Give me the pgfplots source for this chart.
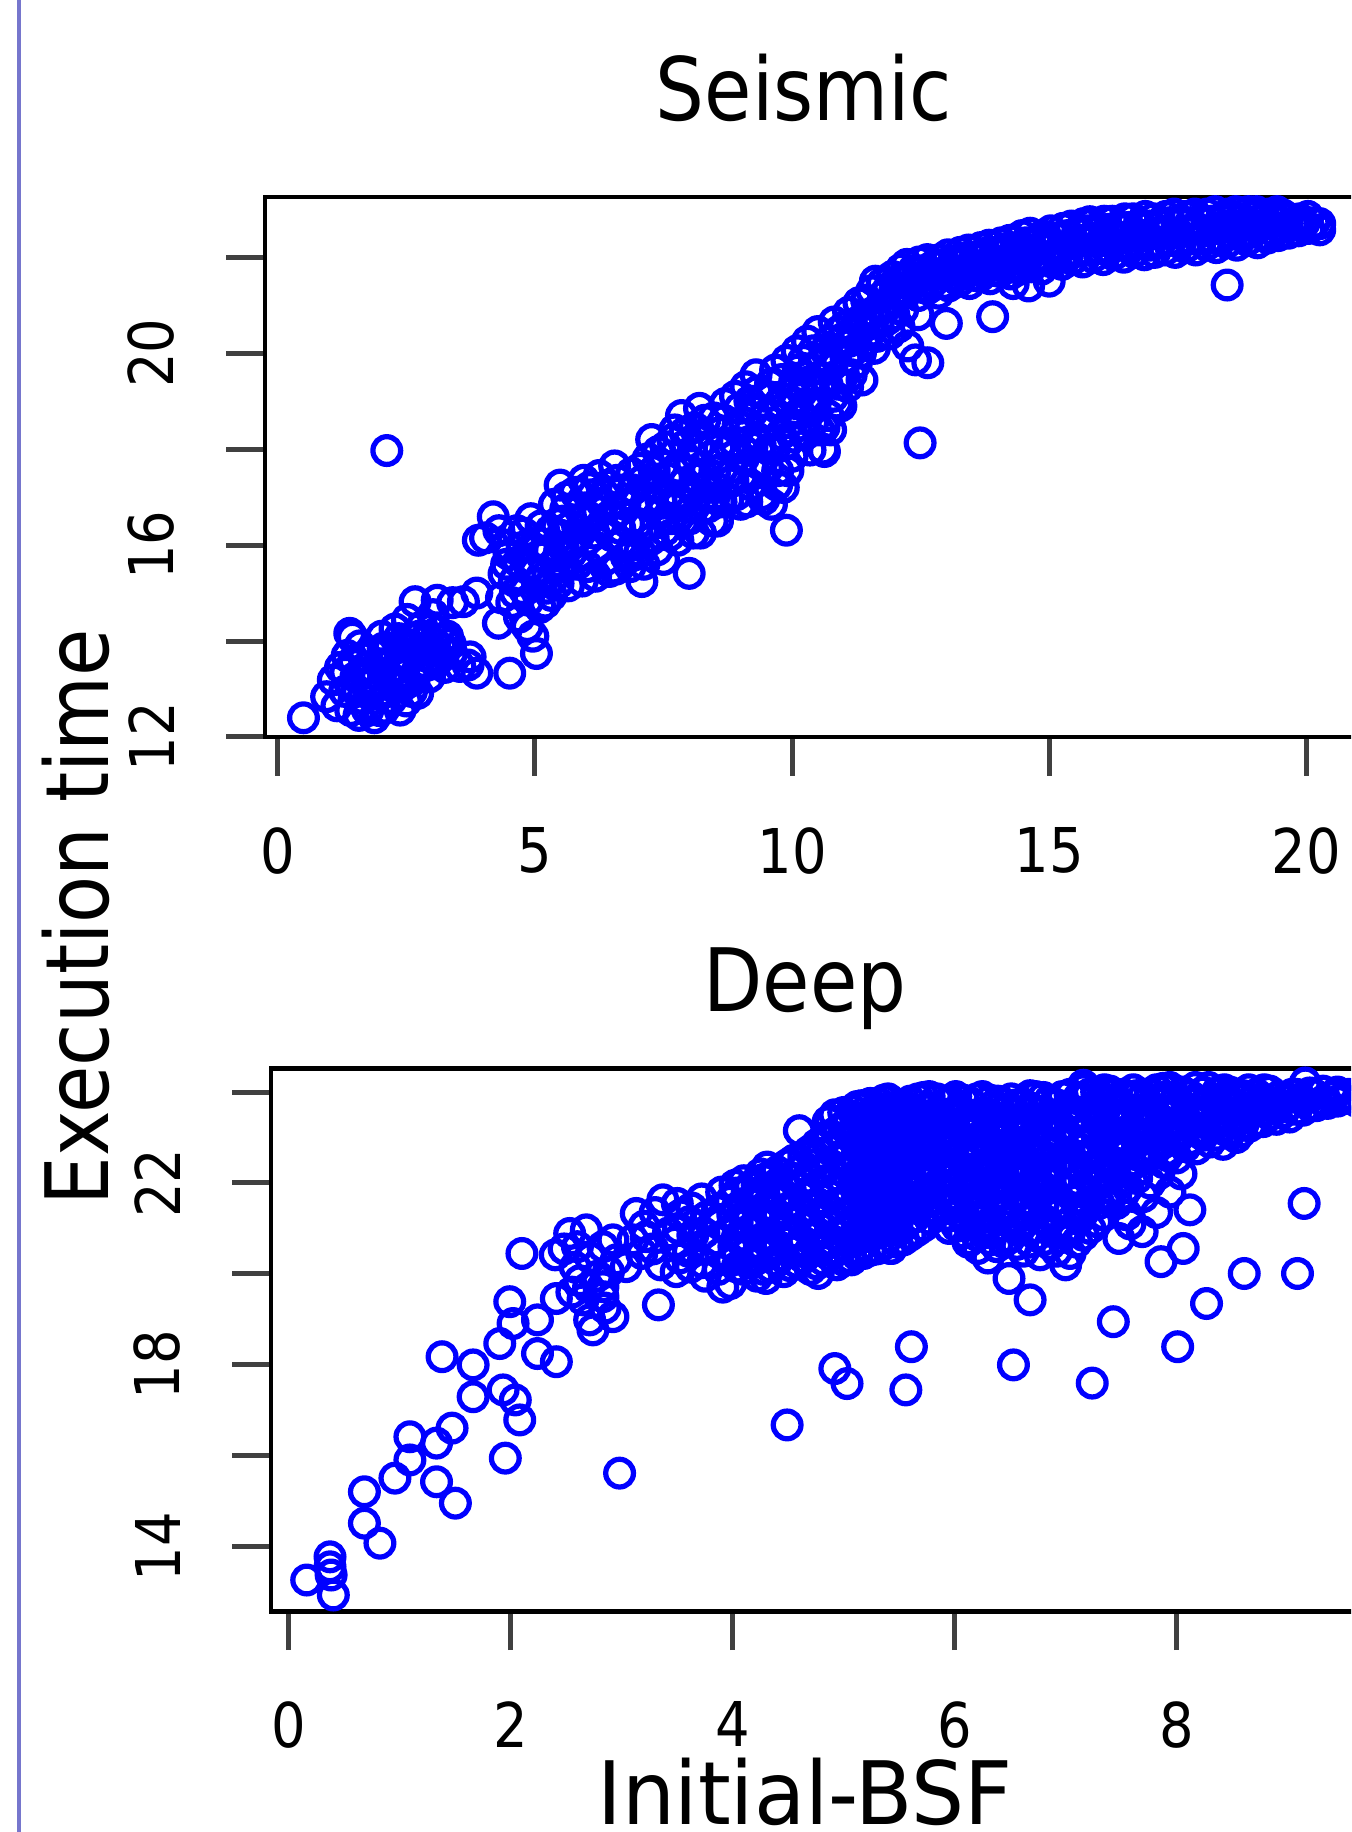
\documentclass[border=0pt]{standalone}
\usepackage{fontspec}
\setmainfont{DejaVu Sans}[FakeStretch=0.88]
\usepackage{pgfplots}
\pgfplotsset{compat=1.18}
\definecolor{leftline}{RGB}{118,118,205}
\newcommand\tickfont{\fontsize{24.7}{28}\selectfont}
\newcommand\titlefont{\fontsize{35}{40}\selectfont}
\pgfplotsset{rstyle/.style={
  scale only axis,
  tick align=outside,
  xtick pos=left, ytick pos=left,
  major tick length=15.5pt,
  axis line style={line width=1.7pt, black},
  tick style={line width=2pt, black!75},
  /pgf/number format/assume math mode=true,
  xticklabel style={font=\tickfont, inner sep=0pt, anchor=north},
  yticklabel style={font=\tickfont, inner sep=0pt, rotate=90, anchor=south},
  xticklabel shift=20.5pt, yticklabel shift=20.5pt,
}}
\pgfplotsset{rmark/.style={only marks, mark=o, color=blue, mark size=5.55pt, mark options={line width=2.1pt}}}
\begin{document}
\begin{tikzpicture}
\begin{scope}
\clip (0,0) rectangle (540.4pt,732.8pt);
\draw[line width=1.3pt, leftline] (7.6pt,0) -- (7.6pt,732.8pt);
% ---------------- Seismic ----------------
\begin{axis}[rstyle, at={(105.96pt,438pt)}, anchor=south west, width=439.2pt, height=215.9pt,
  xmin=-0.25, xmax=21.1, ymin=12, ymax=23.25,
  xtick={0,5,10,15,20}, xticklabels={0,5,10,15,20},
  ytick={12,14,16,18,20,22}, yticklabels={12,,16,,20,}]
\addplot[rmark] coordinates {
(0.50,12.40) (0.95,12.84) (1.08,13.19) (1.15,12.65) (1.22,13.45)
(1.30,12.95) (1.35,13.70) (1.40,14.16) (1.45,14.08) (1.42,12.55)
(1.52,13.25) (1.58,12.45) (1.60,13.90) (1.65,12.80)
(1.72,13.45) (1.75,12.55) (1.80,13.10) (1.85,13.75) (1.88,12.40)
(1.95,12.90) (2.00,13.50) (2.02,14.10) (2.08,12.60)
(2.12,13.25) (2.18,13.85) (2.22,12.80) (2.28,14.25)
(2.32,13.45) (2.38,12.56) (2.42,13.95) (2.48,13.10)
(2.52,14.45) (2.55,13.65) (2.60,12.95) (2.62,14.05)
(2.67,14.82) (2.70,13.35) (2.72,12.91) (2.78,13.85) (2.80,14.30)
(2.85,13.55) (2.90,14.10) (2.95,13.25) (3.00,13.80) (3.02,14.55)
(3.08,13.55) (3.12,14.20) (3.18,13.85) (3.25,13.45) (3.30,14.10) (3.38,13.75)
(3.10,14.85) (3.40,14.80) (3.61,14.82) (3.87,15.00)
(3.54,13.47) (3.74,13.67) (3.87,13.33) (3.70,13.50)
(4.51,13.33) (4.29,14.37) (2.12,17.97)
(3.90,16.10) (4.04,16.15) (4.19,16.59) (4.30,16.30) (4.45,16.00)
(4.35,14.90) (4.40,15.40) (4.50,15.80) (4.55,14.80) (4.60,15.25) (4.65,16.30)
(4.70,14.50) (4.75,15.95) (4.80,15.05) (4.85,14.30) (4.90,15.55) (4.92,16.55)
(4.96,14.10) (5.03,13.74) (5.05,15.20) (5.08,16.05) (5.10,14.70) (5.15,15.75)
(5.20,14.79) (5.25,15.40) (5.30,16.30) (5.32,14.95) (5.38,16.85) (5.40,15.65)
(5.45,15.20) (5.49,17.25) (5.52,16.20) (5.58,15.55) (5.60,16.75)
(5.65,15.15) (5.70,16.40) (5.75,16.04) (5.78,17.10) (5.82,15.60)
(5.88,16.75) (5.92,15.25) (5.95,17.35) (6.00,16.10) (6.02,15.55)
(6.08,16.55) (6.12,17.05) (6.18,15.35) (6.20,15.95) (6.25,17.45)
(6.28,16.40) (6.32,16.85) (6.38,15.70) (6.42,17.25) (6.48,16.20)
(6.52,15.52) (6.55,17.65) (6.58,15.50) (6.62,16.70) (6.68,16.05)
(6.72,17.15) (6.78,15.75) (6.82,16.45) (6.88,17.50) (6.92,16.00)
(6.98,16.90) (7.04,15.86) (7.08,15.24) (7.10,17.35) (7.15,16.40)
(7.20,17.80) (7.25,16.85) (7.27,18.20) (7.30,16.15)
(7.35,17.25) (7.38,15.90) (7.42,16.65) (7.48,17.65) (7.52,16.30)
(7.55,18.05) (7.60,17.05) (7.65,16.55) (7.70,17.55) (7.72,18.40)
(7.78,16.10) (7.82,16.90) (7.85,18.70) (7.90,17.30) (7.95,18.10)
(8.00,15.41) (8.02,16.55) (8.05,17.70) (8.10,18.45) (8.15,17.05)
(8.20,18.85) (8.22,16.25) (8.28,17.45) (8.32,18.20) (8.38,16.80)
(8.42,17.85) (8.48,18.65) (8.52,17.20) (8.55,16.50) (8.60,18.35)
(8.65,17.60) (8.70,18.95) (8.75,16.95) (8.80,18.05)
(8.85,17.35) (8.90,19.10) (8.95,18.50) (9.00,16.85) (9.05,17.80)
(9.10,19.30) (9.15,18.15) (9.20,17.25) (9.25,18.80) (9.30,19.55)
(9.35,17.70) (9.40,18.40) (9.45,16.95) (9.50,19.10) (9.55,18.00)
(9.60,16.85) (9.62,18.70) (9.68,19.65) (9.72,17.55) (9.78,18.30)
(9.83,17.20) (9.86,19.05) (9.90,19.85) (9.89,16.31) (9.95,18.55) (10.00,17.85)
(10.05,19.40) (10.10,20.05) (10.15,18.75) (10.20,19.20) (10.25,18.30)
(10.30,20.25) (10.35,17.98) (10.38,19.65) (10.45,18.95) (10.50,20.45)
(10.55,19.35) (10.60,18.00) (10.63,17.95) (10.65,20.05) (10.70,18.70)
(10.78,19.75) (10.82,20.65) (10.87,18.96) (10.92,19.35) (10.98,20.30)
(11.05,19.90) (11.10,20.85) (11.15,19.55) (11.22,20.45) (11.30,21.05)
(11.36,19.44) (11.42,20.25) (11.48,20.80) (11.55,21.30) (11.60,20.10)
(11.68,20.65) (11.75,21.45) (11.82,20.95) (11.90,20.40) (11.95,21.60)
(12.00,21.10) (12.08,20.55) (12.12,21.75) (12.18,21.25) (12.25,20.15)
(12.40,19.86) (12.49,18.13) (12.64,19.80) (13.00,20.62) (13.90,20.76) (12.45,20.80) (12.00,21.30)
(12.25,21.30) (12.27,21.60) (12.23,21.85)
(12.45,21.20) (12.43,21.55) (12.47,21.90)
(12.65,21.35) (12.67,21.70) (12.63,21.95)
(12.85,21.25) (12.83,21.65) (12.87,21.95)
(13.05,21.40) (13.07,21.75) (13.03,22.05)
(13.25,21.50) (13.23,21.85) (13.27,22.10)
(13.45,21.45) (13.47,21.80) (13.43,22.15)
(13.65,21.60) (13.63,21.95) (13.67,22.20)
(13.85,21.55) (13.87,21.90) (13.83,22.25)
(14.05,21.70) (14.03,22.05) (14.07,22.30)
(14.25,21.65) (14.27,22.00) (14.23,22.35)
(14.45,21.75) (14.43,22.10) (14.47,22.45)
(14.65,21.80) (14.67,22.15) (14.63,22.50)
(14.85,21.75) (14.83,22.20) (14.87,22.45)
(15.05,21.90) (15.07,22.25) (15.03,22.55)
(15.25,21.85) (15.23,22.20) (15.27,22.60)
(15.45,21.95) (15.47,22.30) (15.43,22.65)
(15.65,21.90) (15.63,22.35) (15.67,22.70) (15.79,22.74)
(15.85,22.00) (15.87,22.40) (15.83,22.70)
(16.05,21.95) (16.03,22.35) (16.07,22.75)
(16.25,22.05) (16.27,22.45) (16.23,22.75)
(16.45,22.00) (16.43,22.40) (16.47,22.80)
(16.65,22.10) (16.67,22.50) (16.63,22.80)
(16.85,22.05) (16.83,22.45) (16.87,22.85)
(17.05,22.10) (17.07,22.50) (17.03,22.80)
(17.25,22.15) (17.23,22.55) (17.27,22.85)
(17.45,22.10) (17.47,22.50) (17.43,22.90)
(17.65,22.20) (17.63,22.55) (17.67,22.85)
(17.85,22.15) (17.87,22.60) (17.83,22.90)
(18.05,22.25) (18.03,22.55) (18.07,22.90)
(18.25,22.20) (18.27,22.60) (18.23,22.95)
(18.45,22.30) (18.43,22.65) (18.47,22.90) (18.46,21.42)
(18.65,22.25) (18.67,22.60) (18.63,22.95)
(18.85,22.35) (18.83,22.70) (18.87,22.95)
(19.05,22.30) (19.07,22.65) (19.03,22.95)
(19.25,22.40) (19.23,22.70) (19.27,22.90)
(19.45,22.45) (19.47,22.75) (19.43,22.95)
(19.65,22.50) (19.63,22.80)
(19.85,22.55) (19.87,22.80)
(20.05,22.60) (20.03,22.85)
(20.26,22.57) (20.26,22.70)
(14.30,21.45) (14.60,21.40) (15.00,21.50)
};
\addplot[rmark] coordinates {
(12.35,21.45) (12.35,21.72) (12.55,21.38) (12.55,21.72) (12.75,21.50) (12.75,21.82)
(12.95,21.45) (12.95,21.85) (13.15,21.58) (13.15,21.92) (13.35,21.65) (13.35,21.98)
(13.55,21.62) (13.55,22.00) (13.75,21.75) (13.75,22.08) (13.95,21.72) (13.95,22.10)
(14.15,21.88) (14.15,22.18) (14.35,21.82) (14.35,22.20) (14.55,21.92) (14.55,22.30)
(14.75,21.98) (14.75,22.32) (14.95,21.98) (14.95,22.35) (15.15,22.08) (15.15,22.40)
(15.35,22.05) (15.35,22.45) (15.55,22.12) (15.55,22.50) (15.75,22.15) (15.75,22.55)
(15.95,22.18) (15.95,22.58) (16.15,22.15) (16.15,22.58) (16.35,22.25) (16.35,22.62)
(16.55,22.22) (16.55,22.62) (16.75,22.30) (16.75,22.68) (16.95,22.25) (16.95,22.65)
(17.15,22.30) (17.15,22.68) (17.35,22.35) (17.35,22.72) (17.55,22.30) (17.55,22.72)
(17.75,22.38) (17.75,22.72) (17.95,22.38) (17.95,22.75) (18.15,22.40) (18.15,22.75)
(18.35,22.40) (18.35,22.80) (18.55,22.48) (18.55,22.80) (18.75,22.45) (18.75,22.80)
(18.95,22.52) (18.95,22.85) (19.15,22.48) (19.15,22.82) (19.35,22.55) (19.35,22.82)
(19.55,22.62) (19.55,22.88) (19.75,22.68) (19.95,22.70) (20.15,22.72)
(5.55,15.95) (5.62,17.00) (5.72,15.85) (5.85,16.20) (5.98,16.60) (6.05,17.20) (6.15,16.25)
(6.22,16.70) (6.35,17.05) (6.45,15.45) (6.50,16.55) (6.60,17.35) (6.65,16.35) (6.75,16.85)
(6.85,15.55) (6.90,17.15) (7.00,16.45) (7.05,17.60) (7.12,15.60) (7.18,16.95) (7.24,16.10) (7.32,17.55)
(7.40,17.95) (7.45,16.95) (7.50,15.70) (7.58,17.40) (7.62,16.20) (7.68,18.20) (7.75,16.80)
(7.80,17.60) (7.88,16.50) (7.92,18.35) (7.98,17.00) (8.08,16.25) (8.12,17.40) (8.18,18.05)
(8.25,16.75) (8.30,18.60) (8.35,17.20) (8.45,16.50) (8.50,17.55) (8.58,18.00) (8.62,16.90)
(8.68,18.60) (8.78,17.30)
(8.88,18.15) (8.92,17.05) (8.98,18.85) (9.02,17.45) (9.08,18.55) (9.12,16.90) (9.18,19.00)
(9.22,18.05) (9.28,17.50) (9.32,19.20) (9.38,18.10) (9.42,17.05) (9.48,18.70) (9.52,17.60)
(9.58,19.35) (9.65,18.00) (9.70,17.25) (9.75,18.95) (9.80,19.45) (9.88,18.10) (9.92,17.55) (9.98,19.20)
(10.02,18.25) (10.08,18.95) (10.12,19.65) (10.18,18.50) (10.22,19.85) (10.28,18.95) (10.32,19.40)
(10.40,18.55) (10.42,20.05) (10.48,19.10) (10.52,18.40) (10.58,19.80) (10.62,18.45) (10.68,19.35)
(10.72,20.25) (10.75,18.40) (10.80,19.10) (10.85,19.95) (10.90,20.45) (10.95,18.90) (11.00,19.55)
(11.02,20.55) (11.08,19.30) (11.12,20.25) (11.18,20.05) (11.25,19.80) (11.28,20.65) (11.33,20.00)
(11.40,20.55) (11.45,21.10) (11.52,20.45) (11.58,20.85) (11.62,21.50) (11.65,20.35) (11.72,20.95)
(11.78,21.20) (11.85,20.70) (11.88,21.35) (11.98,20.80) (12.05,21.50) (12.15,20.90)
(4.45,15.60) (4.62,15.00) (4.68,15.65) (4.78,16.25) (4.88,14.85) (4.95,15.95) (5.00,15.45)
(5.12,16.40) (5.22,15.10) (5.28,15.90) (5.35,15.30) (5.42,16.45) (5.48,15.85) (5.55,16.50)
(1.32,13.35) (1.48,13.60) (1.55,12.95) (1.68,13.65) (1.78,12.90) (1.92,13.30) (1.98,12.55)
(2.05,13.85) (2.15,12.95) (2.25,13.60) (2.35,14.05) (2.45,13.30) (2.58,13.85) (2.65,13.20)
(2.75,14.10) (2.82,13.70) (2.92,13.50) (2.98,14.25) (3.05,13.95) (3.15,13.65) (3.22,14.05)
(3.35,13.95) (2.25,13.15) (2.50,12.75) (1.70,12.65)
};
\end{axis}
% ---------------- Deep ----------------
\begin{axis}[rstyle, at={(108.48pt,88.24pt)}, anchor=south west, width=450.9pt, height=217.2pt,
  xmin=-0.16, xmax=10, ymin=12.58, ymax=24.52,
  xtick={0,2,4,6,8}, xticklabels={0,2,4,6,8},
  ytick={14,16,18,20,22,24}, yticklabels={14,,18,,22,}]
\addplot[rmark] coordinates {
(0.16,13.27) (0.37,13.78) (0.37,13.56) (0.38,13.38) (0.40,12.94) (0.68,15.21) (0.68,14.52)
(0.82,14.08) (0.955,15.51) (1.09,16.42) (1.09,15.91) (1.33,16.28) (1.47,16.61) (1.33,15.43)
(1.50,14.96) (1.38,18.18) (1.66,18.00) (1.66,17.30) (1.93,17.45) (2.04,17.23) (2.08,16.79)
(1.95,15.95) (1.99,19.39) (1.90,18.47) (2.02,18.91) (2.24,18.99) (2.24,18.25) (2.41,18.07)
(2.10,20.45) (2.40,20.42) (2.41,19.46) (2.65,19.43) (2.71,18.99) (2.74,18.77) (2.92,19.06)
(2.98,15.62) (3.33,19.32) (2.53,20.89) (2.68,20.97) (2.83,20.60) (2.95,20.31) (2.83,19.72)
(3.13,21.33) (3.37,21.63) (3.22,20.82) (3.04,20.16) (2.83,19.50) (3.91,19.71)
(3.20,21.05) (3.28,20.55) (3.35,20.20) (3.30,21.35) (3.42,20.90) (3.18,20.45) (3.10,20.75)
(2.48,20.55) (2.58,20.15) (2.62,19.85) (2.72,20.35) (2.78,19.95) (2.88,20.05) (2.92,20.75)
(2.55,19.60) (2.85,19.25) (2.60,20.60) (2.70,19.70)
(3.49,20.05) (3.52,20.35) (3.48,20.70) (3.51,21.00) (3.53,21.30) (3.50,21.55)
(3.62,20.15) (3.60,20.50) (3.64,20.85) (3.61,21.15) (3.63,21.45)
(3.75,19.95) (3.73,20.25) (3.77,20.60) (3.74,20.90) (3.76,21.25) (3.72,21.65)
(3.87,20.10) (3.89,20.45) (3.85,20.75) (3.88,21.10) (3.86,21.40) (3.90,21.80)
(3.98,19.79) (3.99,20.30) (4.01,20.60) (3.97,20.95) (4.00,21.30) (3.98,21.60) (4.02,21.95)
(4.10,20.10) (4.12,20.45) (4.08,20.80) (4.11,21.15) (4.09,21.45) (4.13,21.80) (4.10,22.05)
(4.22,19.95) (4.20,20.30) (4.24,20.65) (4.21,21.00) (4.23,21.30) (4.19,21.65) (4.22,21.95) (4.25,22.20)
(4.34,20.15) (4.36,20.50) (4.32,20.85) (4.35,21.20) (4.33,21.50) (4.37,21.85) (4.34,22.15) (4.31,22.35)
(4.46,20.05) (4.44,20.40) (4.48,20.70) (4.45,21.05) (4.47,21.40) (4.43,21.70) (4.46,22.00) (4.49,22.40)
(4.58,20.25) (4.60,20.55) (4.56,20.90) (4.59,21.25) (4.57,21.55) (4.61,21.90) (4.58,22.25) (4.55,22.50)
(4.70,20.10) (4.68,20.45) (4.72,20.80) (4.69,21.10) (4.71,21.45) (4.67,21.75) (4.70,22.10) (4.73,22.40) (4.69,22.70)
(4.82,20.30) (4.84,20.65) (4.80,21.00) (4.83,21.30) (4.81,21.65) (4.85,22.00) (4.82,22.30) (4.79,22.65) (4.83,23.00) (4.86,23.35)
(4.94,20.20) (4.92,20.55) (4.96,20.85) (4.93,21.20) (4.95,21.50) (4.91,21.85) (4.94,22.15) (4.97,22.50) (4.93,22.85) (4.95,23.15) (4.92,23.50)
(5.06,20.35) (5.08,20.70) (5.04,21.05) (5.07,21.35) (5.05,21.70) (5.09,22.00) (5.06,22.35) (5.03,22.70) (5.07,23.00) (5.05,23.35) (5.08,23.60)
(5.18,20.45) (5.16,20.80) (5.20,21.10) (5.17,21.45) (5.19,21.80) (5.15,22.10) (5.18,22.45) (5.21,22.80) (5.17,23.10) (5.19,23.45) (5.16,23.70)
(5.30,20.55) (5.32,20.90) (5.28,21.25) (5.31,21.55) (5.29,21.90) (5.33,22.20) (5.30,22.55) (5.27,22.90) (5.31,23.20) (5.29,23.55) (5.32,23.75)
(5.42,20.56) (5.40,20.95) (5.44,21.30) (5.41,21.65) (5.43,21.95) (5.39,22.30) (5.42,22.65) (5.45,22.95) (5.41,23.30) (5.43,23.60) (5.40,23.85)
(5.54,20.75) (5.56,21.10) (5.52,21.40) (5.55,21.75) (5.53,22.05) (5.57,22.40) (5.54,22.70) (5.51,23.05) (5.55,23.40) (5.53,23.70)
(5.66,20.95) (5.64,21.25) (5.68,21.60) (5.65,21.90) (5.67,22.25) (5.63,22.55) (5.66,22.90) (5.69,23.20) (5.65,23.50) (5.67,23.85)
(5.78,21.20) (5.80,21.45) (5.76,21.75) (5.79,22.05) (5.77,22.40) (5.81,22.70) (5.78,23.05) (5.75,23.35) (5.79,23.65) (5.77,23.90)
(5.90,21.50) (5.88,21.80) (5.92,22.10) (5.89,22.45) (5.91,22.75) (5.87,23.10) (5.90,23.40) (5.93,23.75)
(6.02,21.05) (6.04,21.35) (6.00,21.65) (6.03,22.00) (6.01,22.30) (6.05,22.65) (6.02,22.95) (5.99,23.30) (6.03,23.60) (6.01,23.90)
(6.14,20.75) (6.12,21.10) (6.16,21.45) (6.13,21.80) (6.15,22.10) (6.11,22.45) (6.14,22.80) (6.17,23.10) (6.13,23.45) (6.15,23.75)
(6.21,20.56) (6.12,20.70) (6.30,20.35) (5.95,21.00)
(6.26,20.90) (6.28,21.25) (6.24,21.60) (6.27,21.95) (6.25,22.25) (6.29,22.60) (6.26,22.95) (6.23,23.25) (6.27,23.55) (6.25,23.90)
(6.38,20.60) (6.36,21.00) (6.40,21.40) (6.37,21.75) (6.39,22.10) (6.35,22.40) (6.38,22.75) (6.41,23.10) (6.37,23.40) (6.39,23.80)
(6.49,19.90) (6.50,20.80) (6.52,21.20) (6.48,21.90) (6.51,22.25) (6.49,22.60) (6.53,22.90) (6.50,23.25) (6.47,23.60) (6.51,23.85)
(6.62,20.50) (6.60,21.05) (6.64,21.55) (6.61,22.05) (6.63,22.40) (6.59,22.75) (6.62,23.05) (6.65,23.40) (6.61,23.75)
(6.77,20.42) (6.74,20.85) (6.72,21.35) (6.76,21.80) (6.73,22.20) (6.75,22.55) (6.71,22.90) (6.74,23.25) (6.77,23.55) (6.73,23.90)
(6.86,20.65) (6.84,21.10) (6.88,21.60) (6.85,22.00) (6.87,22.35) (6.83,22.70) (6.86,23.05) (6.89,23.40) (6.85,23.80)
(7.00,20.20) (6.98,20.90) (6.96,21.40) (7.00,21.85) (6.97,22.20) (6.99,22.55) (6.95,22.90) (6.98,23.20) (7.01,23.55) (6.97,23.90)
(7.10,20.70) (7.12,21.20) (7.08,21.65) (7.11,22.05) (7.09,22.40) (7.13,22.75) (7.10,23.10) (7.07,23.45) (7.11,23.85) (7.16,24.15)
(7.22,21.00) (7.20,21.55) (7.24,21.95) (7.21,22.30) (7.23,22.65) (7.19,22.95) (7.22,23.30) (7.25,23.65) (7.21,23.95)
(7.34,21.30) (7.36,21.75) (7.32,22.20) (7.35,22.50) (7.33,22.85) (7.37,23.20) (7.34,23.50) (7.31,23.80) (7.35,24.05)
(7.48,20.78) (7.46,21.55) (7.44,22.25) (7.47,22.65) (7.45,23.00) (7.49,23.35) (7.46,23.70) (7.43,23.95)
(7.58,21.10) (7.56,21.90) (7.60,22.40) (7.57,22.80) (7.59,23.15) (7.55,23.50) (7.58,23.85) (7.61,24.05)
(7.69,20.93) (7.70,21.70) (7.72,22.55) (7.69,22.95) (7.71,23.30) (7.67,23.60) (7.70,23.90)
(7.82,21.35) (7.84,22.20) (7.80,22.70) (7.83,23.10) (7.81,23.45) (7.85,23.75) (7.82,24.05)
(7.94,21.80) (7.92,22.60) (7.96,22.95) (7.93,23.25) (7.95,23.55) (7.91,23.90) (7.94,24.10)
(8.06,20.56) (8.04,22.20) (8.08,22.80) (8.05,23.15) (8.07,23.45) (8.03,23.75) (8.06,24.00)
(8.18,22.75) (8.19,23.19) (8.16,23.50) (8.20,23.80) (8.17,24.10)
(8.30,22.90) (8.32,23.25) (8.28,23.55) (8.31,23.85) (8.29,24.10)
(8.42,22.85) (8.40,23.20) (8.44,23.50) (8.41,23.80) (8.43,24.05)
(8.54,23.00) (8.58,23.12) (8.56,23.45) (8.52,23.70) (8.55,23.95)
(8.66,23.25) (8.64,23.55) (8.68,23.80) (8.65,24.05)
(8.78,23.35) (8.80,23.60) (8.76,23.85) (8.79,24.05)
(8.90,23.40) (8.88,23.65) (8.92,23.90)
(8.99,23.68) (9.02,23.45) (9.04,23.95)
(9.14,23.60) (9.16,24.20) (9.12,23.85)
(9.26,23.70) (9.24,23.95)
(9.41,23.90) (9.36,23.75)
(9.50,23.85) (9.55,23.95) (9.62,23.80)
(4.49,16.68) (4.92,17.92) (5.03,17.59) (5.61,18.40) (5.56,17.45) (6.53,18.00) (7.24,17.60)
(7.43,18.95) (8.01,18.40) (8.27,19.35) (8.61,20.01) (9.09,20.01) (9.15,21.55) (8.12,21.41)
(7.86,20.27) (6.68,19.43) (5.43,20.56) (5.07,20.31) (4.77,20.01) (4.30,19.90) (4.57,20.53)
(4.60,23.15) (7.30,21.55) (7.54,22.25) (7.55,21.30) (7.26,22.73) (7.49,22.60)
};
\addplot[rmark] coordinates {
(4.04,20.15) (4.04,20.48) (4.04,20.80) (4.04,21.12) (4.04,21.45) (4.04,21.78)
(4.16,20.25) (4.16,20.62) (4.16,20.98) (4.16,21.30) (4.16,21.62) (4.16,21.92)
(4.28,20.10) (4.28,20.45) (4.28,20.80) (4.28,21.12) (4.28,21.45) (4.28,21.78) (4.28,22.08)
(4.40,20.28) (4.40,20.60) (4.40,20.95) (4.40,21.30) (4.40,21.62) (4.40,21.98) (4.40,22.25)
(4.52,20.18) (4.52,20.52) (4.52,20.82) (4.52,21.15) (4.52,21.48) (4.52,21.82) (4.52,22.12) (4.52,22.42)
(4.64,20.35) (4.64,20.70) (4.64,21.05) (4.64,21.38) (4.64,21.70) (4.64,22.02) (4.64,22.35) (4.64,22.60)
(4.76,20.22) (4.76,20.55) (4.76,20.90) (4.76,21.22) (4.76,21.55) (4.76,21.88) (4.76,22.22) (4.76,22.55) (4.76,22.85)
(4.88,20.40) (4.88,20.72) (4.88,21.05) (4.88,21.38) (4.88,21.72) (4.88,22.08) (4.88,22.40) (4.88,22.72) (4.88,23.05) (4.88,23.38)
(5.00,20.30) (5.00,20.62) (5.00,20.95) (5.00,21.28) (5.00,21.60) (5.00,21.92) (5.00,22.25) (5.00,22.58) (5.00,22.92) (5.00,23.25) (5.00,23.55)
(5.12,20.42) (5.12,20.78) (5.12,21.12) (5.12,21.45) (5.12,21.78) (5.12,22.12) (5.12,22.45) (5.12,22.78) (5.12,23.10) (5.12,23.42) (5.12,23.68)
(5.24,20.52) (5.24,20.85) (5.24,21.18) (5.24,21.50) (5.24,21.85) (5.24,22.18) (5.24,22.50) (5.24,22.85) (5.24,23.15) (5.24,23.48) (5.24,23.75)
(5.36,20.65) (5.36,21.00) (5.36,21.32) (5.36,21.65) (5.36,21.98) (5.36,22.32) (5.36,22.65) (5.36,22.98) (5.36,23.30) (5.36,23.62) (5.36,23.82)
(5.48,20.70) (5.48,21.05) (5.48,21.38) (5.48,21.72) (5.48,22.05) (5.48,22.38) (5.48,22.72) (5.48,23.05) (5.48,23.38) (5.48,23.68)
(5.60,20.85) (5.60,21.20) (5.60,21.52) (5.60,21.85) (5.60,22.18) (5.60,22.52) (5.60,22.85) (5.60,23.18) (5.60,23.50) (5.60,23.80)
(5.72,21.05) (5.72,21.38) (5.72,21.70) (5.72,22.02) (5.72,22.35) (5.72,22.68) (5.72,23.00) (5.72,23.32) (5.72,23.62) (5.72,23.88)
(5.84,21.35) (5.84,21.65) (5.84,21.95) (5.84,22.28) (5.84,22.60) (5.84,22.92) (5.84,23.25) (5.84,23.55) (5.84,23.85)
(5.96,21.28) (5.96,21.58) (5.96,21.90) (5.96,22.22) (5.96,22.55) (5.96,22.88) (5.96,23.20) (5.96,23.52) (5.96,23.82)
(6.08,20.90) (6.08,21.22) (6.08,21.55) (6.08,21.88) (6.08,22.20) (6.08,22.52) (6.08,22.85) (6.08,23.18) (6.08,23.50) (6.08,23.82)
(6.20,20.85) (6.20,21.18) (6.20,21.52) (6.20,21.85) (6.20,22.18) (6.20,22.52) (6.20,22.85) (6.20,23.18) (6.20,23.50) (6.20,23.85)
(6.32,20.75) (6.32,21.12) (6.32,21.48) (6.32,21.82) (6.32,22.15) (6.32,22.48) (6.32,22.82) (6.32,23.15) (6.32,23.48) (6.32,23.82)
(6.44,20.70) (6.44,21.05) (6.44,21.40) (6.44,21.75) (6.44,22.08) (6.44,22.42) (6.44,22.75) (6.44,23.08) (6.44,23.42) (6.44,23.75)
(6.56,20.65) (6.56,21.00) (6.56,21.35) (6.56,21.70) (6.56,22.05) (6.56,22.40) (6.56,22.72) (6.56,23.05) (6.56,23.38) (6.56,23.72)
(6.68,20.70) (6.68,21.30) (6.68,21.60) (6.68,21.95) (6.68,22.30) (6.68,22.65) (6.68,22.98) (6.68,23.32) (6.68,23.65) (6.68,23.92)
(6.80,20.75) (6.80,21.20) (6.80,21.55) (6.80,21.90) (6.80,22.25) (6.80,22.60) (6.80,22.92) (6.80,23.25) (6.80,23.58) (6.80,23.88)
(6.92,20.50) (6.92,20.95) (6.92,21.30) (6.92,21.65) (6.92,22.02) (6.92,22.38) (6.92,22.72) (6.92,23.05) (6.92,23.38) (6.92,23.72)
(7.04,20.45) (7.04,20.95) (7.04,21.45) (7.04,21.85) (7.04,22.22) (7.04,22.58) (7.04,22.92) (7.04,23.28) (7.04,23.62) (7.04,23.95)
(7.16,20.85) (7.16,21.35) (7.16,21.80) (7.16,22.18) (7.16,22.52) (7.16,22.85) (7.16,23.18) (7.16,23.52) (7.16,23.85) (7.16,24.05)
(7.28,21.15) (7.28,21.65) (7.28,22.05) (7.28,22.40) (7.28,22.75) (7.28,23.08) (7.28,23.40) (7.28,23.72) (7.28,24.00)
(7.40,21.65) (7.40,22.10) (7.40,22.45) (7.40,22.80) (7.40,23.12) (7.40,23.45) (7.40,23.78) (7.40,24.02)
(7.52,21.75) (7.52,22.30) (7.52,22.68) (7.52,23.02) (7.52,23.35) (7.52,23.68) (7.52,23.95)
(7.64,22.10) (7.64,22.62) (7.64,22.95) (7.64,23.28) (7.64,23.60) (7.64,23.92)
(7.76,22.00) (7.76,22.65) (7.76,23.00) (7.76,23.32) (7.76,23.65) (7.76,23.95)
(7.88,22.45) (7.88,22.88) (7.88,23.20) (7.88,23.52) (7.88,23.85) (7.88,24.08)
(8.00,22.55) (8.00,22.95) (8.00,23.25) (8.00,23.55) (8.00,23.88)
(8.12,22.95) (8.12,23.28) (8.12,23.60) (8.12,23.92)
(8.24,23.05) (8.24,23.38) (8.24,23.70) (8.24,24.00)
(8.36,23.05) (8.36,23.38) (8.36,23.68) (8.36,23.98)
(8.48,23.10) (8.48,23.40) (8.48,23.72) (8.48,24.00)
(8.60,23.30) (8.60,23.62) (8.60,23.92)
(8.72,23.35) (8.72,23.68) (8.72,23.95)
(8.84,23.50) (8.84,23.78) (8.84,24.02)
(8.96,23.55) (8.96,23.82)
(9.08,23.62) (9.08,23.95)
(9.20,23.70) (9.20,23.98)
(9.32,23.80) (9.32,24.02)
(9.45,23.80) (9.45,24.00)
};
\end{axis}
\end{scope}
\node[anchor=base, font=\titlefont, inner sep=0pt] at (321.6pt,684.4pt) {Seismic};
\node[anchor=base, font=\titlefont, inner sep=0pt] at (322pt,328.1pt) {Deep};
\node[anchor=base, font=\titlefont, inner sep=0pt] at (322pt,3pt) {\scalebox{1.085}[1]{Initial-BSF}};
\node[anchor=base, rotate=90, font=\titlefont, inner sep=0pt] at (43.5pt,365.9pt) {Execution time};
\pgfresetboundingbox
\useasboundingbox (0,0) rectangle (540.4pt,732.8pt);
\end{tikzpicture}
\end{document}
